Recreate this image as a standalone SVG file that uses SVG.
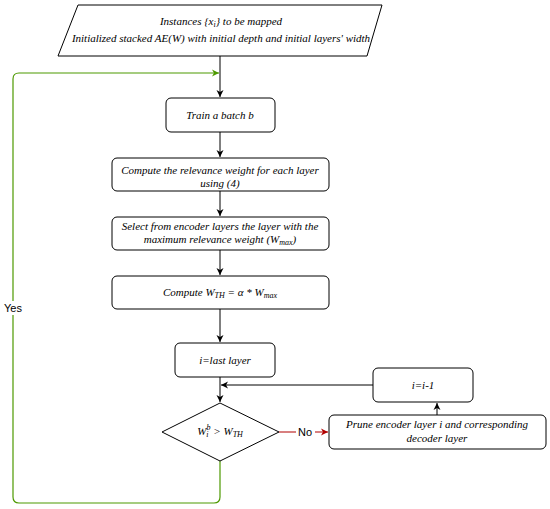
<svg xmlns="http://www.w3.org/2000/svg" width="550" height="509" viewBox="0 0 550 509">
<defs>
<style>
.box{fill:#fff;stroke:#000;stroke-width:1}
.t{font-family:"Liberation Serif","Times New Roman",serif;font-style:italic;font-size:11px;fill:#000;text-anchor:middle}
.s{font-size:8px}
.lbl{font-family:"Liberation Sans",Arial,sans-serif;font-size:11px;fill:#000;text-anchor:middle}
.c{fill:none;stroke:#000;stroke-width:1}
.g{fill:none;stroke:#4D9900;stroke-width:1.2}
.r{fill:none;stroke:#B20000;stroke-width:1.2}
</style>
<marker id="ab" markerWidth="8" markerHeight="8" refX="7" refY="4" orient="auto" markerUnits="userSpaceOnUse">
<path d="M0,0.5 L7,4 L0,7.5 L2,4 Z" fill="#000"/>
</marker>
<marker id="ag" markerWidth="8" markerHeight="8" refX="7" refY="4" orient="auto" markerUnits="userSpaceOnUse">
<path d="M0,0.5 L7,4 L0,7.5 L2,4 Z" fill="#4D9900"/>
</marker>
<marker id="ar" markerWidth="8" markerHeight="8" refX="7" refY="4" orient="auto" markerUnits="userSpaceOnUse">
<path d="M0,0.5 L7,4 L0,7.5 L2,4 Z" fill="#B20000"/>
</marker>
</defs>
<rect width="550" height="509" fill="#fff"/>
<g id="connectors">
<path class="c" d="M220,56 V97" marker-end="url(#ab)"/>
<path class="c" d="M220,132 V157" marker-end="url(#ab)"/>
<path class="c" d="M220,191 V216" marker-end="url(#ab)"/>
<path class="c" d="M220,250 V275" marker-end="url(#ab)"/>
<path class="c" d="M220,309 V342" marker-end="url(#ab)"/>
<path class="c" d="M220,377 V402" marker-end="url(#ab)"/>
<path class="c" d="M373,385 H221" marker-end="url(#ab)"/>
<path class="c" d="M437,415 V403" marker-end="url(#ab)"/>
<path class="r" d="M279,432 H328" marker-end="url(#ar)"/>
<path class="g" d="M220,461 V497 Q220,503 214,503 H19 Q13,503 13,497 V79 Q13,73 19,73 H219" marker-end="url(#ag)"/>
<rect x="296" y="425" width="19" height="14" fill="#fff"/>
<text class="lbl" x="305" y="436">No</text>
<rect x="3" y="301" width="21" height="14" fill="#fff"/>
<text class="lbl" x="13" y="312">Yes</text>
</g>
<g id="input">
<path class="box" d="M78,5 H382 L367,56 H58 Z"/>
<text class="t" x="221" y="25">Instances {x<tspan class="s" dy="2">i</tspan><tspan dy="-2">} to be mapped</tspan></text>
<text class="t" x="221" y="42">Initialized stacked AE(W) with initial depth and initial layers' width</text>
</g>
<g id="train">
<rect class="box" x="166" y="98" width="109" height="34" rx="5"/>
<text class="t" x="220" y="119">Train a batch b</text>
</g>
<g id="relevance">
<rect class="box" x="112" y="158" width="217" height="33" rx="5"/>
<text class="t" x="220" y="174">Compute the relevance weight for each layer</text>
<text class="t" x="220" y="187">using (4)</text>
</g>
<g id="select">
<rect class="box" x="112" y="217" width="217" height="33" rx="5"/>
<text class="t" x="220" y="230">Select from encoder layers the layer with the</text>
<text class="t" x="220" y="243">maximum relevance weight (W<tspan class="s" dy="2">max</tspan><tspan dy="-2">)</tspan></text>
</g>
<g id="threshold">
<rect class="box" x="112" y="276" width="217" height="33" rx="5"/>
<text class="t" x="220" y="296">Compute W<tspan class="s" dy="2">TH</tspan><tspan dy="-2"> = α * W</tspan><tspan class="s" dy="2">max</tspan></text>
</g>
<g id="lastlayer">
<rect class="box" x="175" y="343" width="100" height="34" rx="5"/>
<text class="t" x="225" y="364">i=last layer</text>
</g>
<g id="decision">
<path class="box" d="M220,403 L279,432 L220,461 L162,432 Z"/>
<text class="t" x="220" y="435">W<tspan class="s" dy="2">i</tspan><tspan class="s" dx="-2" dy="-7">b</tspan><tspan dy="5"> &gt; W</tspan><tspan class="s" dy="2">TH</tspan></text>
</g>
<g id="prune">
<rect class="box" x="329" y="415" width="217" height="34" rx="5"/>
<text class="t" x="437" y="428">Prune encoder layer i and corresponding</text>
<text class="t" x="437" y="442">decoder layer</text>
</g>
<g id="decrement">
<rect class="box" x="373" y="368" width="100" height="34" rx="5"/>
<text class="t" x="423" y="389">i=i-1</text>
</g>
</svg>
